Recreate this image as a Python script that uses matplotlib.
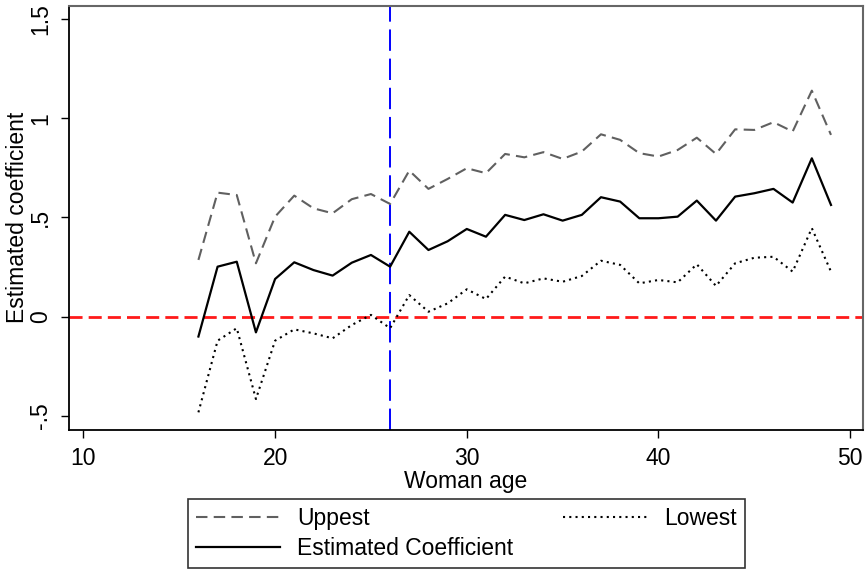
import matplotlib.pyplot as plt
import numpy as np

plt.rcParams['font.family'] = ['Liberation Sans', 'DejaVu Sans']

# ages and estimates
age = list(range(16, 50))
coef = [-0.10, 0.252, 0.277, -0.079, 0.19, 0.274, 0.235, 0.207, 0.272, 0.311,
        0.252, 0.428, 0.336, 0.38, 0.442, 0.403, 0.513, 0.487, 0.516, 0.484,
        0.513, 0.602, 0.580, 0.496, 0.496, 0.504, 0.585, 0.484, 0.605, 0.622,
        0.644, 0.575, 0.798, 0.563]
upper = [0.286, 0.625, 0.613, 0.269, 0.504, 0.61, 0.546, 0.521, 0.592, 0.618,
         0.568, 0.736, 0.644, 0.694, 0.748, 0.723, 0.82, 0.803, 0.829, 0.795,
         0.832, 0.919, 0.891, 0.824, 0.807, 0.84, 0.902, 0.82, 0.944, 0.941,
         0.98, 0.933, 1.139, 0.916]
lower = [-0.482, -0.121, -0.058, -0.415, -0.121, -0.064, -0.084, -0.109, -0.042, 0.009,
         -0.058, 0.109, 0.025, 0.067, 0.138, 0.089, 0.202, 0.168, 0.193, 0.176,
         0.205, 0.282, 0.261, 0.168, 0.185, 0.173, 0.264, 0.155, 0.269, 0.297,
         0.302, 0.227, 0.446, 0.227]

cutoff_age = 26
xticks = [10, 20, 30, 40, 50]
yticks = [-0.5, 0, 0.5, 1, 1.5]
ytick_labels = ['-.5', '0', '.5', '1', '1.5']

fig = plt.figure(figsize=(8.65, 5.7), dpi=100)
ax = fig.add_axes([0.0798, 0.2456, 0.9179, 0.7444])

h_up, = ax.plot(age, upper, color='#606060', lw=1.5, linestyle=(0, (5.5, 3)))
h_coef, = ax.plot(age, coef, color='black', lw=1.6)
h_low, = ax.plot(age, lower, color='black', lw=1.5, linestyle=(0, (1, 2)))

ax.axhline(0, color='#ff1a1a', lw=2, linestyle=(0, (4.7, 2.2)), zorder=1)
ax.axvline(cutoff_age, color='#0000ff', lw=1.4, linestyle=(0, (11, 4)), zorder=1)

ax.set_xlim(9.25, 50.67)
ax.set_ylim(-0.571, 1.567)
ax.set_xticks(xticks)
ax.set_yticks(yticks)
ax.set_yticklabels(ytick_labels, rotation=90, va='center')
ax.tick_params(labelsize=16.5, length=6, width=1, color='black', pad=6)

ax.set_xlabel('Woman age', fontsize=16.5, labelpad=0)
ax.set_ylabel('Estimated coefficient', fontsize=16.5)
ax.yaxis.set_label_coords(-0.050, 0.5)

for s in ['left', 'bottom']:
    ax.spines[s].set_color('black')
    ax.spines[s].set_linewidth(1.3)
for s in ['top', 'right']:
    ax.spines[s].set_color('#666666')
    ax.spines[s].set_linewidth(1.5)

leg = ax.legend([h_up, h_coef, h_low], ['Uppest', 'Estimated Coefficient', 'Lowest'],
                ncol=2, loc='center', bbox_to_anchor=(0.5393, 0.064),
                bbox_transform=fig.transFigure, fontsize=16.5, frameon=True,
                fancybox=False, handlelength=3.65, handletextpad=0.74,
                columnspacing=2.2, labelspacing=0.3, borderpad=0.35)
leg.get_frame().set_edgecolor('black')
leg.get_frame().set_linewidth(1.2)

fig.savefig('out.png', dpi=100)
